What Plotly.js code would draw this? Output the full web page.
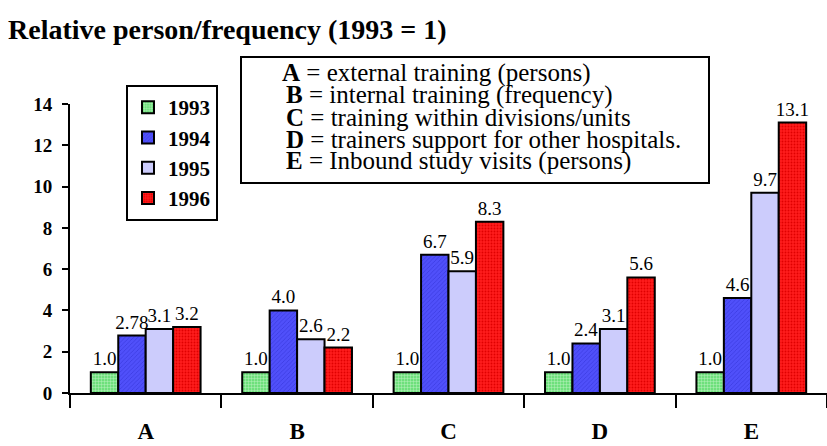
<!DOCTYPE html>
<html>
<head>
<meta charset="utf-8">
<script src="https://cdn.plot.ly/plotly-3.0.1.min.js"></script>
<style>html,body{margin:0;padding:0;background:#fff;}#chart{width:827px;height:446px;}</style>
</head>
<body>
<div id="chart"></div>
<script>
// ---- data ----
const categories = ["A", "B", "C", "D", "E"];
const years = ["1993", "1994", "1995", "1996"];
const v1993 = [1.0, 1.0, 1.0, 1.0, 1.0];
const v1994 = [2.78, 4.0, 6.7, 2.4, 4.6];
const v1995 = [3.1, 2.6, 5.9, 3.1, 9.7];
const v1996 = [3.2, 2.2, 8.3, 5.6, 13.1];
const t1993 = ["1.0", "1.0", "1.0", "1.0", "1.0"];
const t1994 = ["2.78", "4.0", "6.7", "2.4", "4.6"];
const t1995 = ["3.1", "2.6", "5.9", "3.1", "9.7"];
const t1996 = ["3.2", "2.2", "8.3", "5.6", "13.1"];
const yTicks = [0, 2, 4, 6, 8, 10, 12, 14];
const noteKeys = ["A", "B", "C", "D", "E"];
const noteDescs = [
  "external training (persons)",
  "internal training (frequency)",
  "training within divisions/units",
  "trainers support for other hospitals.",
  "Inbound study visits (persons)"
];

const serif = "'Liberation Serif', 'Times New Roman', Times, serif";
const styles = [
  {color: "#6ee07c", pattern: {shape: "+", size: 3, solidity: 0.25, fgcolor: "#c4f5c8", bgcolor: "#6ee07c"}},
  {color: "#5050fa", pattern: {shape: "/", size: 3, solidity: 0.25, fgcolor: "#3b3be0", bgcolor: "#5050fa"}},
  {color: "#ccccfc", pattern: {shape: ""}},
  {color: "#ff1c1c", pattern: {shape: ".", size: 3, solidity: 0.3, fgcolor: "#e00000", bgcolor: "#ff1c1c"}}
];
const series = [v1993, v1994, v1995, v1996];
const texts = [t1993, t1994, t1995, t1996];

const traces = series.map((vals, i) => ({
  type: "bar",
  name: years[i],
  x: categories,
  y: vals,
  text: texts[i],
  textposition: "outside",
  constraintext: "none",
  cliponaxis: false,
  textfont: {family: serif, size: 19, color: "#000"},
  marker: {
    color: styles[i].color,
    pattern: styles[i].pattern,
    line: {color: "#000", width: 2}
  },
  hoverinfo: "x+y+name"
}));

// plot-area pixel geometry helpers (layout only)
const PL = 70, PT = 104, PW = 757, PH = 289;
const px = v => (v - PL) / PW;
const py = v => (PT + PH - v) / PH;

const noteAnnotations = noteKeys.map((k, i) => ({
  xref: "paper", yref: "paper",
  x: px(i === 0 ? 280 : 284), y: py(73 + i * 22),
  xanchor: "left", yanchor: "middle",
  text: "<b>" + k + "</b> = " + noteDescs[i],
  showarrow: false,
  align: "left",
  font: {family: serif, size: 25, color: "#000"}
}));

const layout = {
  width: 827,
  height: 446,
  paper_bgcolor: "#fff",
  plot_bgcolor: "#fff",
  margin: {l: 70, r: 0, t: 104, b: 53},
  font: {family: serif, color: "#000"},
  title: {
    text: "<b>Relative person/frequency (1993 = 1)</b>",
    font: {family: serif, size: 28, color: "#000"},
    xref: "container", x: 8 / 827, xanchor: "left",
    yref: "container", y: 1 - 29 / 446, yanchor: "middle"
  },
  barmode: "group",
  bargap: 0.275,
  bargroupgap: 0,
  showlegend: true,
  legend: {
    x: px(126), xanchor: "left",
    y: py(85), yanchor: "top",
    bordercolor: "#000", borderwidth: 2, bgcolor: "#fff",
    font: {family: serif, size: 21, color: "#000", weight: "bold"},
    itemwidth: 30,
    tracegroupgap: 0
  },
  xaxis: {
    type: "category",
    range: [-0.5, 4.5],
    tickson: "boundaries",
    ticks: "outside", ticklen: 13, tickwidth: 2, tickcolor: "#000",
    showline: true, linecolor: "#000", linewidth: 2,
    showgrid: false, zeroline: false,
    tickfont: {family: serif, size: 23, color: "#000", weight: "bold"},
    ticklabelstandoff: 16,
    fixedrange: true
  },
  yaxis: {
    range: [0, 14],
    tickvals: yTicks,
    ticktext: yTicks.map(String),
    ticks: "outside", ticklen: 6, tickwidth: 2, tickcolor: "#000",
    showline: true, linecolor: "#000", linewidth: 2,
    showgrid: false, zeroline: false,
    tickfont: {family: serif, size: 19, color: "#000", weight: "bold"},
    ticklabelstandoff: 6,
    fixedrange: true
  },
  shapes: [{
    type: "rect", xref: "paper", yref: "paper",
    x0: px(241), x1: px(709), y0: py(183), y1: py(57),
    line: {color: "#000", width: 2},
    fillcolor: "#fff",
    layer: "above"
  }],
  annotations: noteAnnotations
};

Plotly.newPlot("chart", traces, layout, {displayModeBar: false, staticPlot: true});
</script>
</body>
</html>
